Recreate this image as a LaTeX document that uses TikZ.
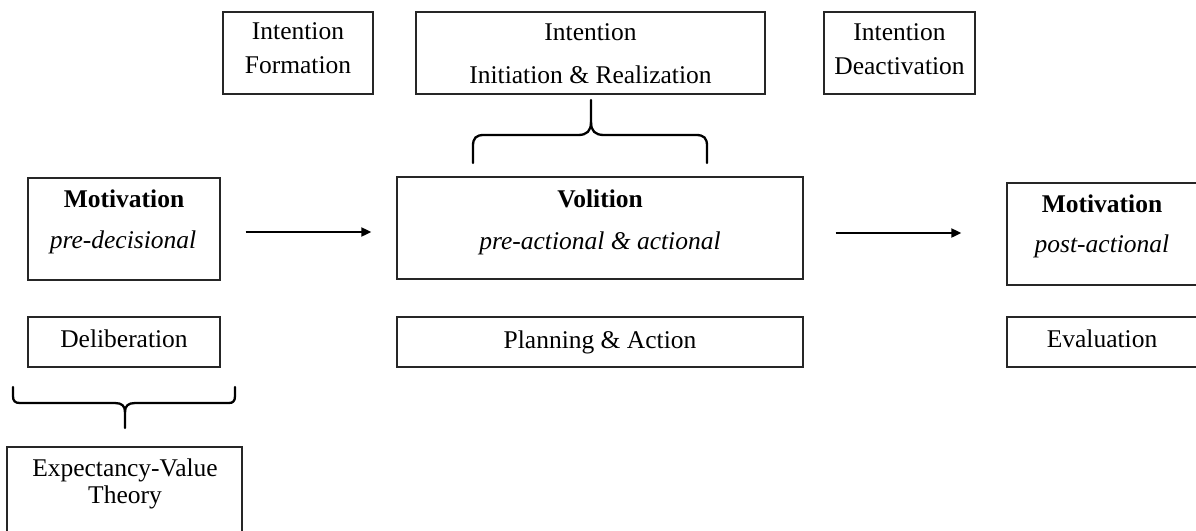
\documentclass[tikz,border=0pt]{standalone}
\usepackage{fontspec}
\setmainfont{Liberation Serif}
\usetikzlibrary{arrows.meta}
\begin{document}
\begin{tikzpicture}[x=1pt,y=-1pt,
  box/.style={draw=black!85, line width=1.4pt, inner sep=0pt},
  txt/.style={anchor=base, inner sep=0pt, font=\fontsize{25.5}{30}\selectfont},
  conn/.style={line width=2.1pt, -{Triangle[length=10pt,width=9pt]}},
  brc/.style={line width=2.3pt, line cap=round, line join=round}]
\useasboundingbox (0,0) rectangle (1196,530);
% boxes
\node[box, minimum width=150pt, minimum height=82pt] (form) at (298,53) {};
\node[box, minimum width=349pt, minimum height=82pt] (init) at (590.5,53) {};
\node[box, minimum width=151pt, minimum height=82pt] (deact) at (899.5,53) {};
\node[box, minimum width=192pt, minimum height=102pt] (mpre) at (124,229) {};
\node[box, minimum width=406pt, minimum height=102pt] (vol) at (600,228) {};
\node[box, minimum width=191pt, minimum height=102pt] (mpost) at (1102.5,234) {};
\node[box, minimum width=192pt, minimum height=50pt] (delib) at (124,342) {};
\node[box, minimum width=406pt, minimum height=50pt] (plan) at (600,342) {};
\node[box, minimum width=191pt, minimum height=50pt] (eval) at (1102.5,342) {};
\node[box, minimum width=235pt, minimum height=98pt] (expect) at (124.5,496) {};
% texts
\node[txt] (formA) at (298,39) {Intention};
\node[txt] (formB) at (298,73) {Formation};
\node[txt] (initA) at (590.5,40) {Intention};
\node[txt] (initB) at (590.5,83) {Initiation \& Realization};
\node[txt] (deactA) at (899.5,40) {Intention};
\node[txt] (deactB) at (899.5,74) {Deactivation};
\node[txt] (mpreA) at (124,207) {\bfseries Motivation};
\node[txt] (mpreB) at (123,248) {\itshape pre-decisional};
\node[txt] (volA) at (600,207) {\bfseries Volition};
\node[txt] (volB) at (600,249) {\itshape pre-actional \& actional};
\node[txt] (mpostA) at (1102,212) {\bfseries Motivation};
\node[txt] (mpostB) at (1102,252) {\itshape post-actional};
\node[txt] (delibA) at (124,347) {Deliberation};
\node[txt] (planA) at (600,348) {Planning \& Action};
\node[txt] (evalA) at (1102,347) {Evaluation};
\node[txt] (expA) at (125,476) {Expectancy-Value};
\node[txt] (expB) at (125,503) {Theory};
% arrows
\draw[conn, shorten <=25pt, shorten >=25pt] ([yshift=-3pt]mpre.east) -- ([yshift=-4pt]vol.west);
\draw[conn, shorten <=32pt, shorten >=45pt] ([yshift=-5pt]vol.east) -- ([yshift=1pt]mpost.west);
% top brace
\draw[brc] (473,163) -- (473,146) .. controls (473,138) and (476,135) .. (484,135) -- (578,135) .. controls (587,135) and (591,131) .. (591,122) -- (591,100);
\draw[brc] (591,122) .. controls (591,131) and (595,135) .. (604,135) -- (696,135) .. controls (704,135) and (707,138) .. (707,146) -- (707,163);
% bottom brace
\draw[brc] (13,387) -- (13,396) .. controls (13,401) and (15,403) .. (20,403) -- (115,403) .. controls (122,403) and (125,406) .. (125,412) -- (125,428);
\draw[brc] (125,412) .. controls (125,406) and (128,403) .. (135,403) -- (229,403) .. controls (233,403) and (235,401) .. (235,396) -- (235,387);
\end{tikzpicture}
\end{document}
